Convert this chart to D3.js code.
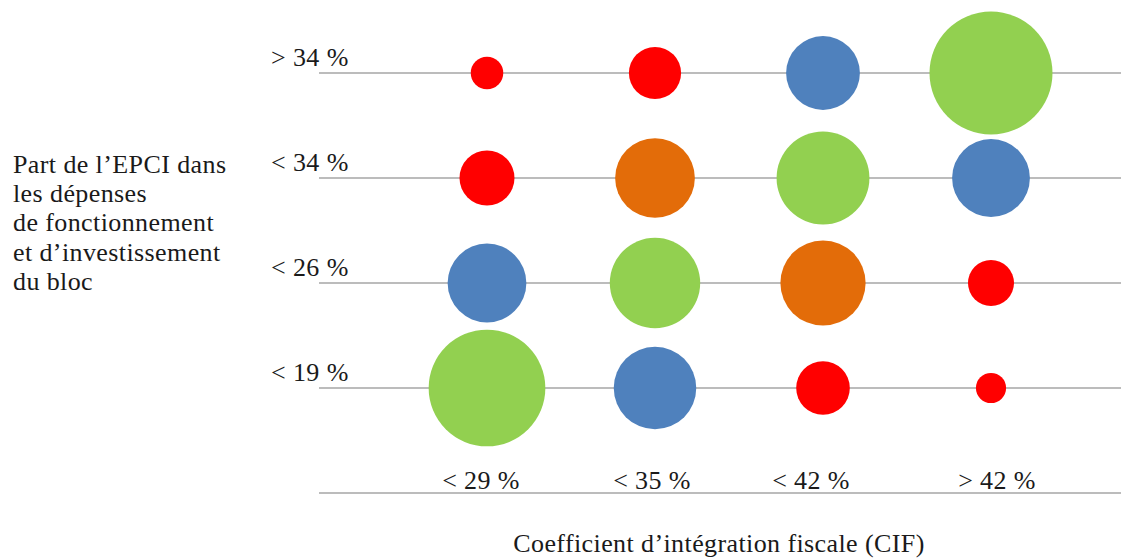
<!DOCTYPE html>
<html>
<head>
<meta charset="utf-8">
<script src="https://cdn.jsdelivr.net/npm/d3@7"></script>
<style>
body { margin: 0; background: #fff; }
text { font-family: "Liberation Serif", serif; fill: #1a1a1a; letter-spacing: 0.4px; }
</style>
</head>
<body>
<script>
// categories
var cifLabels = ["< 29 %", "< 35 %", "< 42 %", "> 42 %"];
var partLabels = ["< 19 %", "< 26 %", "< 34 %", "> 34 %"]; // bottom to top

// bubble sizes, one array per row (bottom to top), one value per CIF class
var row19 = [90, 45, 19, 6];
var row26 = [41, 54, 48, 14];
var row34 = [20, 42, 57, 40];
var rowTop = [7, 18, 36, 100];

// colour group of each bubble (same layout)
var grp19 = ["g", "b", "r", "r"];
var grp26 = ["b", "g", "o", "r"];
var grp34 = ["r", "o", "g", "b"];
var grpTop = ["r", "r", "b", "g"];

var yTitle = ["Part de l\u2019EPCI dans", "les d\u00e9penses", "de fonctionnement", "et d\u2019investissement", "du bloc"];
var xTitle = "Coefficient d\u2019int\u00e9gration fiscale (CIF)";

var rows = [row19, row26, row34, rowTop];
var grps = [grp19, grp26, grp34, grpTop];

var w = 1121, h = 558;
var fontSize = 26;

var colors = d3.scaleOrdinal()
.domain(["r", "o", "b", "g"])
.range(["#ff0000", "#e36c09", "#4f81bd", "#92d050"]);

var xScale = d3.scaleLinear().domain([0, 4]).range([319, 991]);
var yScale = d3.scaleLinear().domain([0, 4]).range([493, 73]);
var rScale = d3.scaleSqrt().domain([0, 100]).range([0, 61.5]);

var svg = d3.select("body").append("svg").attr("width", w).attr("height", h);

// grid lines (bottom line = baseline of the x axis)
svg.selectAll("line.grid").data([0, 1, 2, 3, 4]).enter().append("line")
.attr("class", "grid")
.attr("x1", xScale(0))
.attr("x2", w)
.attr("y1", function(d){ return yScale(d); })
.attr("y2", function(d){ return yScale(d); })
.attr("stroke", "#a6a6a6")
.attr("stroke-width", 1.5);

// flatten
var points = [];
rows.forEach(function(row, i){
    row.forEach(function(v, j){
        points.push({row: i + 1, col: j + 1, value: v, grp: grps[i][j]});
    });
});

svg.selectAll("circle").data(points).enter().append("circle")
.attr("cx", function(d){ return xScale(d.col); })
.attr("cy", function(d){ return yScale(d.row); })
.attr("r", function(d){ return rScale(d.value); })
.attr("fill", function(d){ return colors(d.grp); });

// row labels
svg.selectAll("text.ylab").data(partLabels).enter().append("text")
.attr("class", "ylab")
.attr("x", 271)
.attr("y", function(d, i){ return yScale(i + 1) - 7; })
.attr("font-size", fontSize + "px")
.text(function(d){ return d; });

// column labels (text boxes are not exactly centred in the original)
var xlabShift = [-6, -3, -12, 6];
svg.selectAll("text.xlab").data(cifLabels).enter().append("text")
.attr("class", "xlab")
.attr("x", function(d, i){ return xScale(i + 1) + xlabShift[i]; })
.attr("y", 489)
.attr("text-anchor", "middle")
.attr("font-size", fontSize + "px")
.text(function(d){ return d; });

// axis titles
svg.append("text")
.attr("x", 719)
.attr("y", 552)
.attr("text-anchor", "middle")
.attr("font-size", fontSize + "px")
.text(xTitle);

svg.selectAll("text.ytitle").data(yTitle).enter().append("text")
.attr("class", "ytitle")
.attr("x", 13)
.attr("y", function(d, i){ return 173 + i * 29.2; })
.attr("font-size", fontSize + "px")
.text(function(d){ return d; });
</script>
</body>
</html>
